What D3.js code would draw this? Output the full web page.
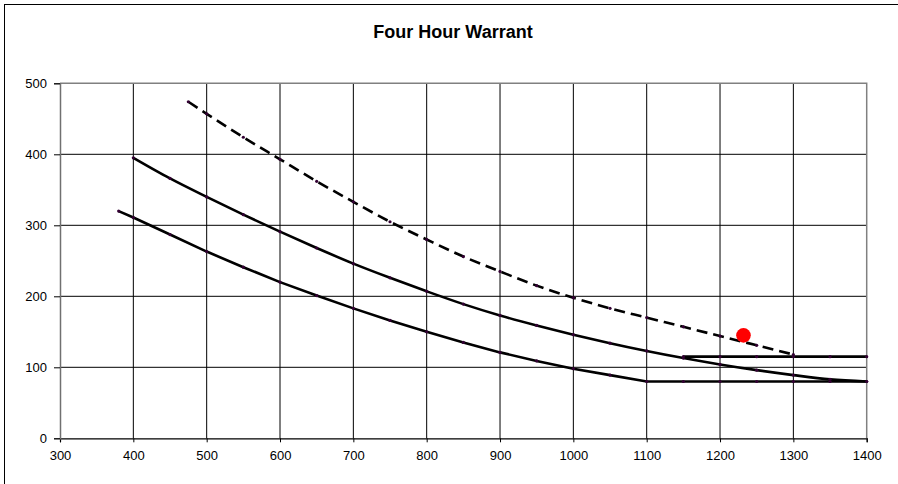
<!DOCTYPE html>
<html>
<head>
<meta charset="utf-8">
<script src="https://cdn.jsdelivr.net/npm/d3@7"></script>
<style>
  body { margin: 0; background: #fff; overflow: hidden; }
  text { font-family: "Liberation Sans", Arial, sans-serif; fill: #000; }
</style>
</head>
<body>
<svg id="chart"></svg>
<script>
// tick labels
const xTicks = [300, 400, 500, 600, 700, 800, 900, 1000, 1100, 1200, 1300, 1400];
const yTicks = [0, 100, 200, 300, 400, 500];

// series
const dashedX = [475, 500, 550, 600, 650, 700, 750, 800, 850, 900, 950, 1000, 1050, 1100, 1150, 1200, 1250, 1300];
const dashedY = [474, 457, 424, 393, 362, 333, 305, 280, 256, 235, 215, 198, 183, 170, 157, 144, 131, 118];

const upperX = [400, 450, 500, 550, 600, 650, 700, 750, 800, 850, 900, 950, 1000, 1050, 1100, 1150, 1200, 1250, 1300, 1350, 1400];
const upperY = [395, 366, 340, 315, 291, 268, 246, 226, 207, 189, 173, 159, 146, 134, 123, 113, 104, 96, 89, 83, 80];

const lowerX = [380, 400, 450, 500, 550, 600, 650, 700, 750, 800, 850, 900, 950, 1000, 1050, 1100, 1150, 1200, 1250, 1300, 1350, 1400];
const lowerY = [320, 311, 287, 263, 241, 220, 201, 183, 166, 150, 135, 121, 109, 98, 89, 80, 80, 80, 80, 80, 80, 80];

const flatX = [1150, 1200, 1250, 1300, 1350, 1400];
const flatY = [115, 115, 115, 115, 115, 115];

const pointX = [1232];
const pointY = [145];

const width = 898;
const height = 484;
const margin = {top: 83.3, right: 31.3, bottom: 45.7, left: 60};

const svg = d3.select(`#chart`)
    .attr(`width`, width)
    .attr(`height`, height)
    .style(`display`, `block`);

// outer chart frame (right/bottom run off the picture)
svg.append(`rect`)
    .attr(`x`, 4.5)
    .attr(`y`, 4.5)
    .attr(`width`, width + 10)
    .attr(`height`, height + 10)
    .attr(`fill`, `none`)
    .attr(`stroke`, `#000`)
    .attr(`stroke-width`, 1);

svg.append(`text`)
    .attr(`x`, 453)
    .attr(`y`, 38)
    .attr(`text-anchor`, `middle`)
    .attr(`font-size`, `18px`)
    .attr(`font-weight`, `bold`)
    .text(`Four Hour Warrant`);

const xScale = d3.scaleLinear()
    .domain([300, 1400])
    .range([margin.left, width - margin.right]);

const yScale = d3.scaleLinear()
    .domain([0, 500])
    .range([height - margin.bottom, margin.top]);

// gridlines
svg.append(`g`)
    .selectAll(`line`)
    .data(yTicks.slice(1, -1))
    .enter()
    .append(`line`)
    .attr(`x1`, xScale(300))
    .attr(`x2`, xScale(1400))
    .attr(`y1`, d => yScale(d))
    .attr(`y2`, d => yScale(d))
    .attr(`stroke`, `#000`)
    .attr(`stroke-width`, 1);

svg.append(`g`)
    .selectAll(`line`)
    .data(xTicks.slice(1, -1))
    .enter()
    .append(`line`)
    .attr(`x1`, d => xScale(d))
    .attr(`x2`, d => xScale(d))
    .attr(`y1`, yScale(0))
    .attr(`y2`, yScale(500))
    .attr(`stroke`, `#000`)
    .attr(`stroke-width`, 1);

// plot area border: grey top/right
svg.append(`path`)
    .attr(`d`, `M${xScale(300)},${yScale(500)}H${xScale(1400)}V${yScale(0)}`)
    .attr(`fill`, `none`)
    .attr(`stroke`, `#808080`)
    .attr(`stroke-width`, 1.5);

const xAxis = d3.axisBottom(xScale)
    .tickValues(xTicks)
    .tickFormat(d3.format(`d`))
    .tickSize(4)
    .tickPadding(8);
const yAxis = d3.axisLeft(yScale)
    .tickValues(yTicks)
    .tickFormat(d3.format(`d`))
    .tickSize(6)
    .tickPadding(7);

const gx = svg.append(`g`)
    .attr(`transform`, `translate(0, ${yScale(0)})`)
    .call(xAxis);
gx.select(`.domain`).attr(`stroke`, `#000`).attr(`stroke-width`, 1.2);
gx.selectAll(`.tick line`).attr(`stroke`, `#000`);
gx.selectAll(`text`)
    .attr(`font-size`, `13px`)
    .attr(`font-family`, `"Liberation Sans", Arial, sans-serif`)
    .attr(`fill`, `#000`);

const gy = svg.append(`g`)
    .attr(`transform`, `translate(${xScale(300)}, 0)`)
    .call(yAxis);
gy.select(`.domain`).attr(`stroke`, `#707070`).attr(`stroke-width`, 1.5);
gy.selectAll(`.tick line`).attr(`stroke`, `#000`);
gy.selectAll(`text`)
    .attr(`font-size`, `13px`)
    .attr(`font-family`, `"Liberation Sans", Arial, sans-serif`)
    .attr(`fill`, `#000`);

const smooth = d3.line()
    .x(d => xScale(d[0]))
    .y(d => yScale(d[1]))
    .curve(d3.curveMonotoneX);
const straight = d3.line()
    .x(d => xScale(d[0]))
    .y(d => yScale(d[1]));

const series = [
    {xs: lowerX, ys: lowerY, dash: null, gen: straight},
    {xs: upperX, ys: upperY, dash: null, gen: smooth},
    {xs: flatX, ys: flatY, dash: null, gen: straight},
    {xs: dashedX, ys: dashedY, dash: `11,6`, gen: smooth}
];

series.forEach(s => {
    const pts = s.xs.map((x, i) => [x, s.ys[i]]);
    svg.append(`path`)
        .datum(pts)
        .attr(`d`, s.gen)
        .attr(`fill`, `none`)
        .attr(`stroke`, `#000`)
        .attr(`stroke-width`, 2.6)
        .attr(`stroke-dasharray`, s.dash);
    svg.append(`g`)
        .selectAll(`circle`)
        .data(pts)
        .enter()
        .append(`circle`)
        .attr(`cx`, d => xScale(d[0]))
        .attr(`cy`, d => yScale(d[1]))
        .attr(`r`, 1.6)
        .attr(`fill`, `#303`);
});

svg.append(`g`)
    .selectAll(`circle`)
    .data(pointX.map((x, i) => [x, pointY[i]]))
    .enter()
    .append(`circle`)
    .attr(`cx`, d => xScale(d[0]))
    .attr(`cy`, d => yScale(d[1]))
    .attr(`r`, 7.3)
    .attr(`fill`, `#ff0000`);
</script>
</body>
</html>
